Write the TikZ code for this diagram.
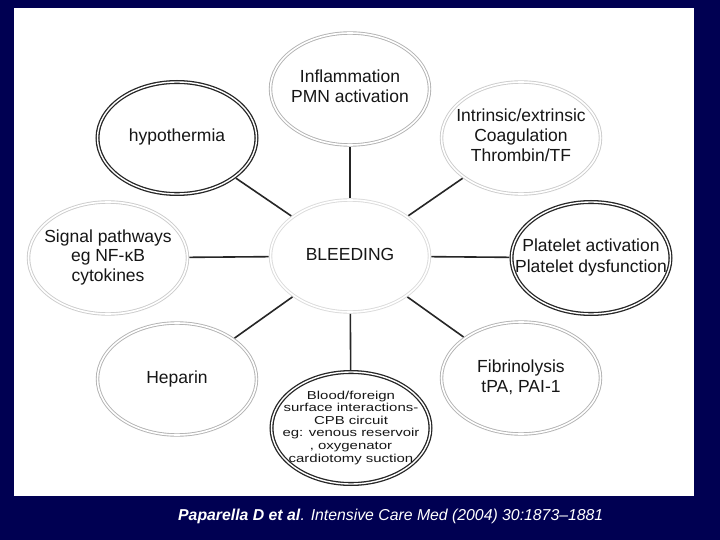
\documentclass[tikz,border=0pt]{standalone}
\usepackage{graphicx}
\usepackage{fontspec}
\setmainfont{Liberation Sans}
\usetikzlibrary{shapes.geometric}

\definecolor{navy}{RGB}{0,0,82}
\definecolor{ink}{RGB}{22,22,22}
\newcommand{\ringtxt}[1]{\makebox[0pt]{\begin{tabular}{@{}c@{}}#1\end{tabular}}}

\begin{document}
\begin{tikzpicture}[x=1pt,y=-1pt,
    ring/.style={ellipse,draw=gray!60,double,line width=0.9pt,double distance=1.6pt,
      minimum width=159pt,minimum height=112pt,inner sep=0pt,text=ink,
      font=\fontsize{17.5}{20}\selectfont},
    darkring/.style={ring,draw=black!85,line width=1.3pt,double distance=1.4pt},
    lightring/.style={ring,draw=gray!40},
    link/.style={line width=1.6pt,draw=black!85,shorten <=1.5pt,shorten >=1.5pt}]
    % slide
    \fill[navy] (0,0) rectangle (720,540);
    \fill[white] (14,8) rectangle (694,496);

    \node[lightring,draw=gray!28](bleed)at(350,256){\ringtxt{BLEEDING}};
    \node[ring](infl)at(350,89){\ringtxt{Inflammation\\PMN activation}};
    \node[lightring](coag)at(521,138){\ringtxt{Intrinsic/extrinsic\\Coagulation\\Thrombin/TF}};
    \node[darkring](plat)at(591,258){\ringtxt{Platelet activation\\Platelet dysfunction}};
    \node[ring](fibr)at(521,378){\ringtxt{Fibrinolysis\\tPA, PAI-1}};
    \node[darkring,font=\fontsize{11.5}{12.6}\selectfont](cpb)at(351,428){\scalebox{1.3}[1]{\ringtxt{Blood/foreign\\surface interactions-\\CPB circuit\\eg: venous reservoir\\, oxygenator\\cardiotomy suction}}};
    \node[ring](hep)at(177,379){\ringtxt{Heparin}};
    \node[lightring](sig)at(108,258){\ringtxt{Signal pathways\\eg NF-κB\\cytokines}};
    \node[darkring](hypo)at(177,138){\ringtxt{hypothermia}};

    \foreach \n in {infl,coag,plat,fibr,cpb,hep,sig,hypo}
      \draw[link] (bleed) to (\n);

    \node[anchor=base west,text=white,inner sep=0pt,font=\fontsize{15.8}{18}\selectfont](cite)at(178,520){\textbf{\textit{Paparella D et al}}\textit{. Intensive Care Med (2004) 30:1873–1881}};
\end{tikzpicture}
\end{document}
